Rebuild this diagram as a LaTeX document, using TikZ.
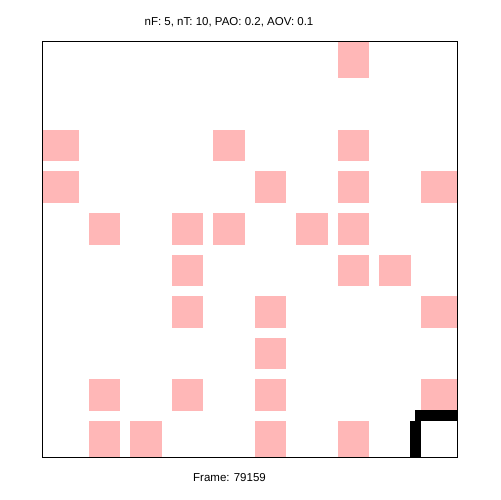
\documentclass[tikz,border=0pt]{standalone}
\usepackage{fontspec}
\setmainfont{Liberation Sans}
\definecolor{cellpink}{RGB}{255,183,183}
\tikzset{
  lbl/.style={inner sep=0pt, font=\fontsize{11.5bp}{14bp}\selectfont},
  cellsq/.style={fill=cellpink, draw=none},
  agent/.style={fill=black, draw=none},
  frameline/.style={draw=black, line width=1bp}
}
\begin{document}
\begin{tikzpicture}[x=1bp,y=-1bp]
\useasboundingbox (0,0) rectangle (500,500);
\fill[white] (0,0) rectangle (500,500);
\foreach \c/\r in {7/0, 0/2,4/2,7/2, 0/3,5/3,7/3,9/3, 1/4,3/4,4/4,6/4,7/4, 3/5,7/5,8/5, 3/6,5/6,9/6, 5/7, 1/8,3/8,5/8,9/8, 1/9,2/9,5/9,7/9} {
  \pgfmathsetmacro\xa{\c==0 ? 42 : 42+41.5*\c+5}
  \pgfmathsetmacro\xb{\c==9 ? 457 : 42+41.5*(\c+1)-5}
  \pgfmathsetmacro\ya{\r==0 ? 42 : 42+41.5*\r+5}
  \pgfmathsetmacro\yb{\r==9 ? 457 : 42+41.5*(\r+1)-5}
  \fill[cellsq] (\xa,\ya) rectangle (\xb,\yb);
}
\fill[agent] (415,410) rectangle (457,420.7);
\fill[agent] (410,420.7) rectangle (420.7,457);
\draw[frameline] (42,42) rectangle (457,457);
\node[lbl] (title) at (229,22) {nF: 5, nT: 10, PAO: 0.2, AOV: 0.1};
\node[lbl] (framelbl) at (229.5,478) {Frame: 79159};
\end{tikzpicture}
\end{document}
